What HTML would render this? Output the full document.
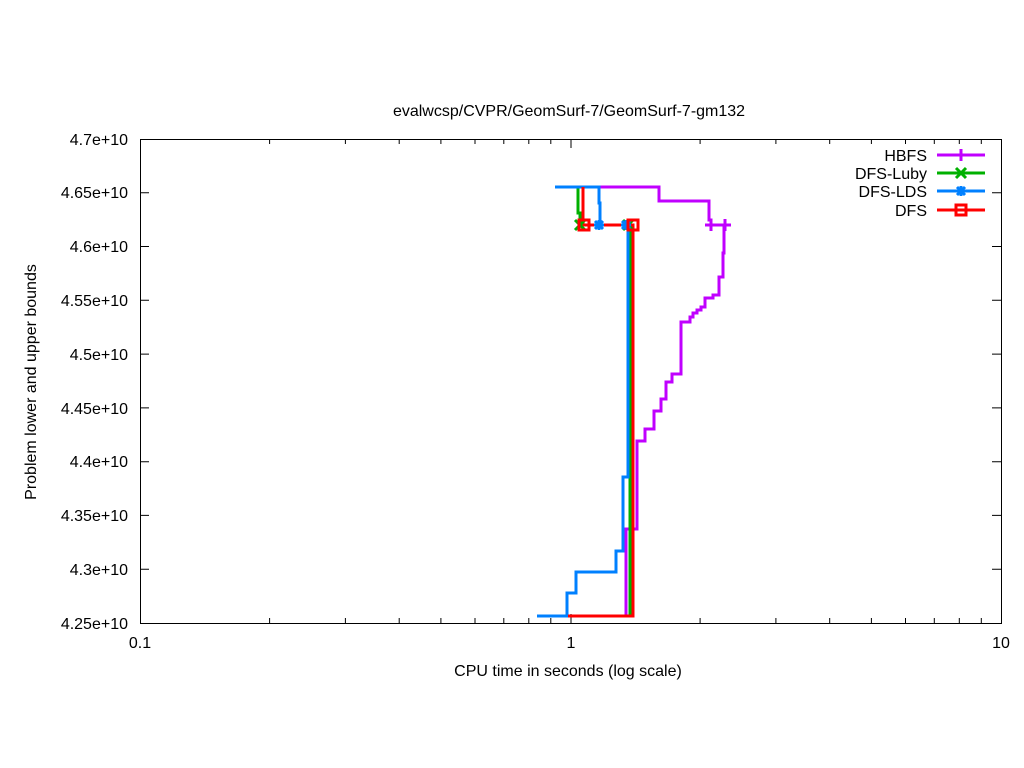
<!DOCTYPE html><html><head><style>body{margin:0;background:#fff}svg{display:block}text{font-family:"Liberation Sans",sans-serif;font-size:16px;fill:#000}</style></head><body>
<svg width="1024" height="768" viewBox="0 0 1024 768">
<rect x="140.5" y="139.5" width="861" height="484" fill="none" stroke="#000" stroke-width="1"/>
<path stroke="#000" stroke-width="1" fill="none" d="
M140 569.2h9M1001 569.2h-9M140 515.4h9M1001 515.4h-9M140 461.7h9M1001 461.7h-9M140 407.9h9M1001 407.9h-9M140 354.1h9M1001 354.1h-9M140 300.3h9M1001 300.3h-9M140 246.5h9M1001 246.5h-9M140 192.8h9M1001 192.8h-9
M571 623v-9M571 139v9
M269.6 623v-5M345.4 623v-5M399.2 623v-5M440.9 623v-5M475 623v-5M503.8 623v-5M528.8 623v-5M550.8 623v-5
M700.1 623v-5M775.9 623v-5M829.7 623v-5M871.4 623v-5M905.5 623v-5M934.3 623v-5M959.3 623v-5M981.3 623v-5
M269.6 139v5M345.4 139v5M399.2 139v5M440.9 139v5M475 139v5M503.8 139v5M528.8 139v5M550.8 139v5
M700.1 139v5M775.9 139v5M829.7 139v5M871.4 139v5M905.5 139v5M934.3 139v5M959.3 139v5M981.3 139v5"/>
<g text-anchor="end">
<text x="128" y="629">4.25e+10</text><text x="128" y="575">4.3e+10</text><text x="128" y="521">4.35e+10</text><text x="128" y="467">4.4e+10</text><text x="128" y="414">4.45e+10</text><text x="128" y="360">4.5e+10</text><text x="128" y="306">4.55e+10</text><text x="128" y="252">4.6e+10</text><text x="128" y="198">4.65e+10</text><text x="128" y="145">4.7e+10</text>
</g>
<g text-anchor="middle">
<text x="140" y="648">0.1</text><text x="571" y="648">1</text><text x="1001" y="648">10</text>
<text x="568" y="676">CPU time in seconds (log scale)</text>
<text x="569" y="116">evalwcsp/CVPR/GeomSurf-7/GeomSurf-7-gm132</text>
<text transform="translate(36,382) rotate(-90)">Problem lower and upper bounds</text>
</g>
<g fill="none" stroke-width="3">
<polyline stroke="#c000ff" points="558,616 626,616 626,529 637,529 637,441 645,441 645,429 654,429 654,411 661,411 661,399 666,399 666,382 672,382 672,374 681,374 681,322 690,322 690,317 693,317 693,313 697,313 697,310 701,310 701,307 705,307 705,298 713,298 713,295 719,295 719,277 723,277 723,253 724,253 724,225"/>
<polyline stroke="#c000ff" points="599,187 659,187 659,201 709,201 709,220 711,220 711,225 730,225"/>
<polyline stroke="#00b000" points="630,616 630,225"/>
<polyline stroke="#00b000" points="578,187 578,213 580,213 580,225"/>
<polyline stroke="#0080ff" points="537,616 567,616 567,593 576,593 576,572 616,572 616,551 623,551 623,477 628,477 628,225"/>
<polyline stroke="#0080ff" points="555,187 599,187 599,203 600,203 600,225"/>
<polyline stroke="#ff0000" points="568,616 633,616 633,225 583,225 583,187"/>
<line stroke="#c000ff" x1="937" y1="155" x2="985" y2="155"/>
<line stroke="#00b000" x1="937" y1="173" x2="985" y2="173"/>
<line stroke="#0080ff" x1="937" y1="191" x2="985" y2="191"/>
<line stroke="#ff0000" x1="937" y1="210" x2="985" y2="210"/>
</g>
<g stroke-width="3" fill="none">
<path stroke="#c000ff" d="M705 225h12M711 219v12M719 225h12M725 219v12M961 149v12"/>
<path stroke="#00b000" d="M575 220l10 10M575 230l10-10M623 220l10 10M623 230l10-10M956 168l10 10M956 178l10-10"/>
<path stroke="#0080ff" d="M594 225h10M599 220v10M595 221l8 8M595 229l8-8M621 225h10M626 220v10M622 221l8 8M622 229l8-8M956 191h10M961 186v10M957 187l8 8M957 195l8-8"/>
<path stroke="#ff0000" d="M579 220h10v10h-10zM628 220h10v10h-10zM956 205h10v10h-10z"/>
</g>
<g text-anchor="end">
<text x="927" y="161">HBFS</text><text x="927" y="179">DFS-Luby</text><text x="927" y="197">DFS-LDS</text><text x="927" y="216">DFS</text>
</g>
</svg></body></html>
